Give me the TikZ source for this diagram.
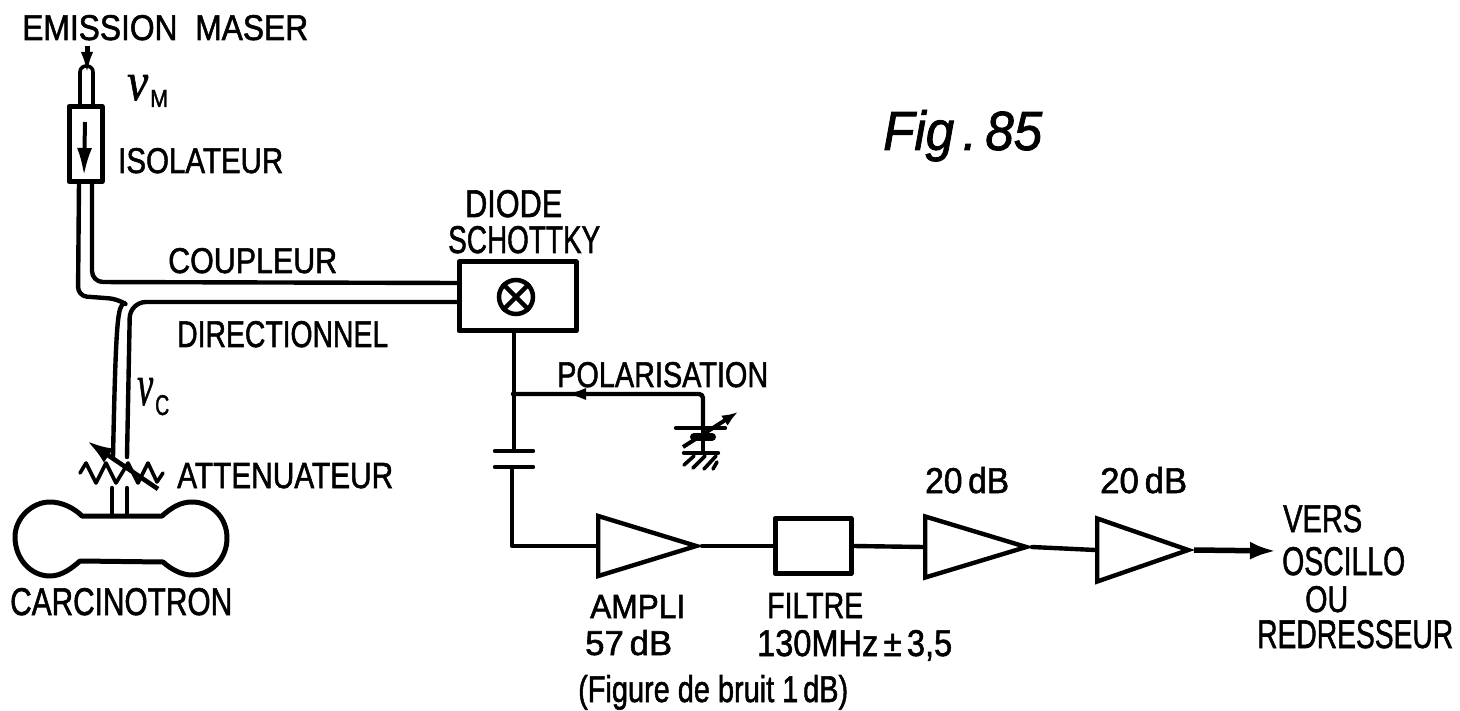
\documentclass[tikz,border=0pt]{standalone}
\usepackage{graphicx}
\usepackage{fontspec}
\setmainfont{Liberation Sans}
\newfontfamily\labf[FakeBold=1.6]{Liberation Sans}
\newfontfamily\nufont[FakeBold=1.2]{Liberation Serif}
\usetikzlibrary{shapes.geometric,arrows.meta,calc}
% #1 width, #2 height of the text in px
\newcommand{\fit}[3]{\resizebox{#1pt}{#2pt}{\fontsize{32}{32}\labf #3}}
\newcommand{\nusym}[2]{\resizebox{#1pt}{#2pt}{\fontsize{40}{40}\nufont\itshape ν}}
\tikzset{
  wire/.style={line width=4.4pt,line cap=round,line join=round},
  thinw/.style={line width=3.6pt,line cap=round,line join=round},
  block/.style={draw,line width=5pt,inner sep=0pt,rectangle,line join=round},
  lab/.style={inner sep=0pt,anchor=base west,text=black},
  amp/.style={draw,line width=4.4pt,isosceles triangle,isosceles triangle stretches,inner sep=0pt,anchor=apex},
  tipa/.style={-{Latex[length=24pt,width=12pt]}}
}
\begin{document}
\begin{tikzpicture}[x=1pt,y=-1pt]
\useasboundingbox (0,0) rectangle (1460,711);
% blocks
\node[block,minimum width=33pt,minimum height=75pt] (iso) at (85.5,144) {};
\node[block,minimum width=117pt,minimum height=69pt] (diode) at (517.5,296.5) {};
\node[draw,circle,line width=4.5pt,minimum size=34pt,inner sep=0pt] (mix) at (516,297) {};
\draw[line width=4.5pt] (mix.north west)--(mix.south east) (mix.north east)--(mix.south west);
\node[block,minimum width=76pt,minimum height=55pt] (filt) at (813,546) {};
\node[amp,minimum width=60pt,minimum height=98pt] (a1) at (702,546) {};
\node[amp,minimum width=61pt,minimum height=101pt] (a2) at (1032,547) {};
\node[amp,minimum width=63pt,minimum height=91pt] (a3) at (1194,550) {};
% labels
\node[lab] (t1) at (22,40) {\fit{286}{25}{EMISSION\ \ MASER}};
\node[lab] (t2) at (118,173) {\fit{165}{25}{ISOLATEUR}};
\node[lab] (t3) at (168,273) {\fit{169}{25}{COUPLEUR}};
\node[lab] (t4) at (177,347) {\fit{211}{26}{DIRECTIONNEL}};
\node[lab] (t5) at (465,217) {\fit{97}{27}{DIODE}};
\node[lab] (t6) at (448,253) {\fit{152}{27}{SCHOTTKY}};
\node[lab] (t7) at (557,387) {\fit{211}{25}{POLARISATION}};
\node[lab] (t8) at (177,488) {\fit{216}{25}{ATTENUATEUR}};
\node[lab] (t9) at (10,615) {\fit{222}{27}{CARCINOTRON}};
\node[lab] (t10) at (590,618) {\fit{95}{23}{AMPLI}};
\node[lab] (t11) at (585,655) {\fit{87}{25}{57\,dB}};
\node[lab] (t12) at (767,618) {\fit{96}{25}{FILTRE}};
\node[lab] (t13) at (757,656) {\fit{195}{26}{130MHz\,±\,3,5}};
\node[lab] (t14) at (578,702) {\fit{270}{27}{(Figure de bruit 1\,dB)}};
\node[lab] (t15) at (925,493) {\fit{84}{26}{20\,dB}};
\node[lab] (t16) at (1100,493) {\fit{87}{26}{20\,dB}};
\node[lab] (t17) at (1283,532) {\fit{79}{27}{VERS}};
\node[lab] (t18) at (1282,575) {\fit{123}{28}{OSCILLO}};
\node[lab] (t19) at (1305,612) {\fit{43}{26}{OU}};
\node[lab] (t20) at (1257,648) {\fit{196}{28}{REDRESSEUR}};
\node[lab] (t21) at (883,150) {\resizebox{159pt}{40pt}{\fontsize{52}{52}\labf\itshape Fig\,.\,85}};
\node[lab] (num) at (127,100) {\nusym{21}{25}};
\node[lab] (numi) at (150,107) {\fit{18}{17}{M}};
\node[lab] (nuc) at (137,405) {\nusym{16}{27}};
\node[lab] (nuci) at (155,415) {\fit{14}{20}{C}};
% named end points
\coordinate (inT) at (87,46);
\coordinate (inH) at (87,76);
\coordinate (gL) at (79,183);
\coordinate (gR) at (92,183);
\coordinate (dU) at (458,283);
\coordinate (dL) at (458,302);
\coordinate (wL) at (113,457);
\coordinate (wR) at (127,457);
\coordinate (cL) at (112,514);
\coordinate (cR) at (127,514);
\coordinate (cLt) at (112,488);
\coordinate (cRt) at (127,488);
\coordinate (capA) at (514,451);
\coordinate (capB) at (512,467);
\coordinate (jn) at (513,394);
\coordinate (bat) at (703,428);
\coordinate (gnd) at (703,453);
% input guide
\draw[thinw] (80,104) -- (80,72) .. controls (80,64) and (93,64) .. (93,72) -- (93,104);
\draw[line width=5pt,tipa] (inT) -- (inH);
% isolator arrow
\draw[line width=4pt,-{Latex[length=28pt,width=15pt]}] (85,122) -- (84,176);
% waveguide
\draw[wire,rounded corners=9pt] (gL) -- (78,296) -- (118,299) -- (124,303);
\draw[wire] (124,303) .. controls (118,308) and (116,312) .. (wL);
\draw[wire,rounded corners=11pt] (gR) -- (92,282) -- (dU);
\draw[wire,rounded corners=16pt] (wR) -- (130,302) -- (dL);
% attenuator
\draw[thinw] (80,473) -- (86,463) -- (96,483) -- (106,463) -- (116,483) -- (128,463) -- (138,483) -- (148,463) -- (157,482) -- (163,473);
\draw[line width=4.6pt,-{Latex[length=26pt,width=17pt]}] (158,489) -- (87,441);
\draw[wire] (cLt) -- (cL);
\draw[wire] (cRt) -- (cR);
% carcinotron
\draw[line width=5pt,line join=round] (82,516) -- (162,516)
 .. controls (172,507) and (181,502) .. (192,502)
 .. controls (212,502) and (227,518) .. (227,538)
 .. controls (227,560) and (210,575) .. (192,575)
 .. controls (182,575) and (172,570) .. (163,562)
 -- (80,561)
 .. controls (72,568) and (62,576) .. (50,576)
 .. controls (30,576) and (15,558) .. (15,537)
 .. controls (15,518) and (32,502) .. (50,502)
 .. controls (62,502) and (74,508) .. (82,516) -- cycle;
% detector wiring
\draw[wire] (diode.south -| capA) -- (capA);
\draw[wire] (495,451) -- (533,451);
\draw[wire] (495,467) -- (533,467);
\draw[wire] (capB) |- (a1.lower side);
\draw[wire] (a1.apex) -- (filt.west);
\draw[wire] (filt.east) -- (a2.lower side);
\draw[wire] (a2.apex) -- (a3.lower side);
\coordinate (out) at (1276,551);
\draw[line width=5.5pt,-{Latex[length=26pt,width=18pt]}] (a3.apex) -- (out);
% polarisation
\draw[wire,rounded corners=4pt] (jn) -- (703,394) -- (bat);
\draw[line width=4.4pt,-{Latex[length=22pt,width=12pt]}] (590,394) -- (564,394);
\draw[wire] (676,428) -- (725,428);
\draw[line width=8pt,line cap=round] (694,437) -- (712,437);
\draw[wire] (bat) -- (gnd);
\draw[line width=4pt,-{Latex[length=16pt,width=12pt]}] (683,447) -- (738,412);
\draw[wire] (684,453) -- (718,453);
\draw[thinw] (694,456) -- (684,465) (705,456) -- (693,468) (716,456) -- (704,469) (717,462) -- (713,469);
\end{tikzpicture}
\end{document}
